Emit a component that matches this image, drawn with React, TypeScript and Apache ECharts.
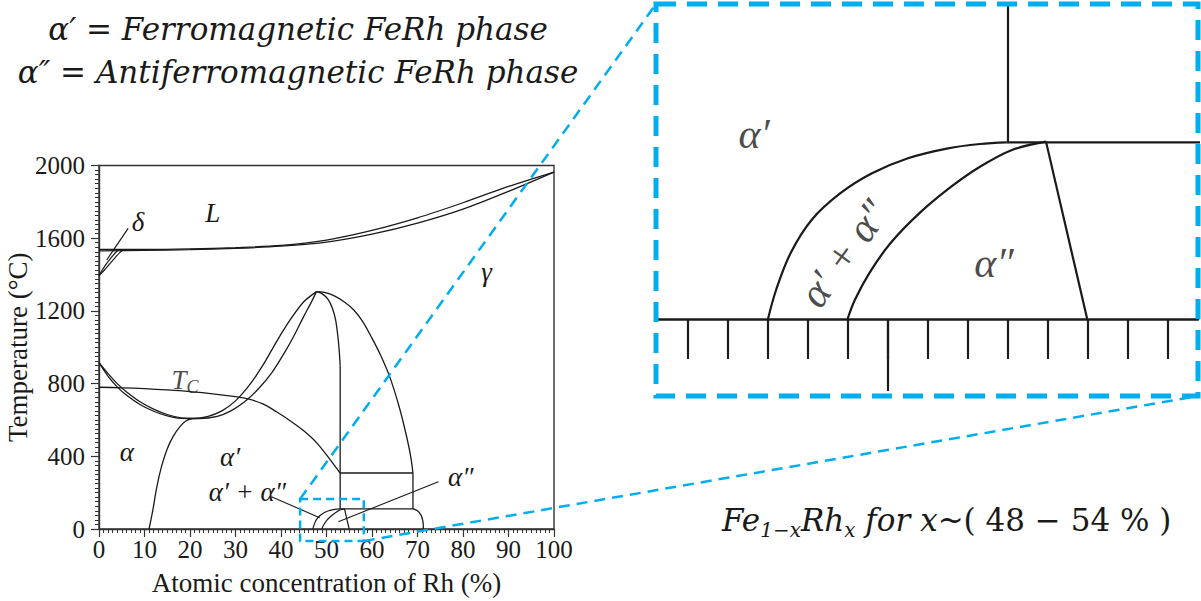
import React, { useEffect, useRef } from "react";
import * as echarts from "echarts";

// ---- Phase boundaries of Fe-Rh: [Rh at.%, T (°C)] ----
const liquidus = [[0, 1538], [10, 1538], [20, 1541], [30, 1548], [40, 1560], [50, 1590], [60, 1643], [70, 1712], [80, 1795], [90, 1885], [100, 1964]];
const solidus = [[0, 1530], [10, 1533], [20, 1537], [30, 1544], [40, 1556], [50, 1578], [60, 1622], [70, 1683], [80, 1760], [90, 1858], [100, 1964]];
const deltaA = [[0, 1394], [0.6, 1420], [1.5, 1455], [2.6, 1490], [3.6, 1520], [4.2, 1534]];
const deltaB = [[0, 1394], [1.2, 1425], [2.4, 1460], [3.6, 1495], [4.6, 1522], [5.2, 1534]];
const deltaLeader = [[1.7, 1480], [6.4, 1654]];
const gammaOuter = [[0, 915], [2, 855], [4, 800], [6, 755], [9, 700], [12, 660], [15, 630], [18, 612], [21, 608], [24, 620], [27, 650], [30, 705], [33, 790], [36, 900], [39, 1030], [42, 1150], [45, 1250], [47.8, 1306]];
const gammaInner = [[0, 915], [2, 840], [4, 782], [6, 737], [9, 685], [12, 648], [15, 622], [18, 609], [22, 608], [26, 620], [29, 650], [32, 700], [35, 770], [38, 860], [41, 980], [43, 1070], [45, 1170], [46.5, 1240], [47.8, 1306]];
const rightOuter = [[47.8, 1306], [49.5, 1302], [51.5, 1285], [54, 1248], [56, 1205], [58, 1140], [60, 1050], [62, 950], [64, 830], [66, 670], [67.5, 520], [68.5, 400], [69, 308]];
const rightVertical = [[69, 308], [69, 110.5]];
const rightDome = [[69, 110.5], [70, 100], [70.8, 75], [71.2, 40], [71.3, 0]];
const rightInner = [[47.8, 1306], [49, 1295], [50.3, 1265], [51.3, 1215], [52, 1150], [52.5, 1060], [52.8, 980], [53, 900]];
const innerVertical = [[53, 900], [53, 110.5]];
const curieLine = [[0, 780], [5, 777], [10, 772], [15, 765], [20, 756], [25, 744], [30, 728], [33, 714], [36, 688], [39, 645], [42, 596], [45, 540], [48, 470], [51, 375], [53, 308]];
const alphaBoundary = [[11, 0], [11.8, 100], [12.7, 230], [13.7, 340], [14.9, 435], [16.3, 510], [17.8, 563], [19, 593], [20.5, 608]];
const ordered308 = [[53, 308], [69, 308]];
const ordered110 = [[52.97, 110.5], [69, 110.5]];
const afmOuter = [[47, 0], [47.2, 18], [47.56, 41], [48.09, 62], [48.81, 78.7], [49.6, 91.2], [50.5, 100.6], [51.5, 106.8], [52.3, 109.5], [52.97, 110.5]];
const afmInner = [[48.99, 0], [49.17, 11.9], [49.53, 28.6], [50.06, 47.4], [50.78, 66.1], [51.58, 82.8], [52.3, 95.3], [53.1, 105.8], [53.95, 111]];
const afmRight = [[53.95, 111], [54.98, 0]];
const pairLeader = [[37.9, 178], [48.5, 62]];
const afmLeader = [[74.6, 260], [52.6, 40]];

// ---- region labels ----
const mainLabels: [number, number, string][] = [
  [25, 1739, "L"],
  [8.6, 1690, "δ"],
  [85.2, 1416, "γ"],
  [6.1, 425, "α"],
  [28.8, 398, "α′"],
  [32.6, 205, "α′ + α″"],
  [79.5, 288, "α″"],
];
const curieLabel: [number, number] = [18.9, 820];
const insetLabels: [number, number, string, number][] = [
  [46.65, 116, "α′", 0],
  [52.65, 35, "α″", 0],
  [48.9, 41, "α′ + α″", 54],
];

// ---- axes ----
const xRange = [0, 100];
const tRange = [0, 2000];
const insetX = [44.225, 57.75];
const insetT = [0, 196.5];
const insetTicks = [45, 46, 47, 48, 49, 50, 51, 52, 53, 54, 55, 56, 57];
const insetLongTick = [50];
const zoomBox = { x0: 44.2, x1: 58.2, t0: -66, t1: 165 };

const INK = "#1a1a1a";
const CYAN = "#00AEEF";
const SERIF = "Liberation Serif";
const HIDDEN = "rgba(0,0,0,0)";

function line(data: number[][], grid: number, width: number, smooth: number | boolean = 0.3) {
  return {
    type: "line",
    xAxisIndex: grid,
    yAxisIndex: grid,
    data,
    symbol: "none",
    showSymbol: false,
    smooth,
    silent: true,
    clip: true,
    lineStyle: { color: INK, width },
    z: 3,
  };
}

export default function App() {
  const ref = useRef<HTMLDivElement>(null);
  useEffect(() => {
    const chart = echarts.init(ref.current!, null, { renderer: "svg" });
    const labelStyle = { fontFamily: SERIF, fontStyle: "italic", fontSize: 27, color: INK, textBorderWidth: 0, opacity: 1 };
    const option: any = {
      animation: false,
      grid: [
        { left: 99, right: 647, top: 165.5, bottom: 72, show: true, borderColor: "#333", borderWidth: 1.4, backgroundColor: "transparent" },
        { left: 657, right: 3, top: 5, bottom: 282 },
      ],
      xAxis: [
        {
          gridIndex: 0, type: "value", min: xRange[0], max: xRange[1], interval: 10,
          name: "Atomic concentration of Rh (%)", nameLocation: "middle", nameGap: 40,
          nameTextStyle: { fontFamily: SERIF, fontSize: 27, color: INK },
          axisLine: { show: true, onZero: false, lineStyle: { color: "#333", width: 1.4 } },
          axisTick: { show: true, length: 8, lineStyle: { color: "#333", width: 1.2 } },
          minorTick: { show: true, splitNumber: 10, length: 4, lineStyle: { color: "#333", width: 1 } },
          axisLabel: { fontFamily: SERIF, fontSize: 25, color: INK, margin: 8, formatter: (v: number) => String(v) },
          splitLine: { show: false },
        },
        {
          gridIndex: 1, type: "value", min: insetX[0], max: insetX[1], position: "bottom",
          axisLine: { show: true, onZero: false, lineStyle: { color: INK, width: 2.5 } },
          axisTick: { show: true, customValues: insetTicks, length: 40, lineStyle: { color: INK, width: 2.2 } },
          axisLabel: { show: false },
          splitLine: { show: false },
        },
        {
          gridIndex: 1, type: "value", min: insetX[0], max: insetX[1], position: "bottom", offset: 0,
          axisLine: { show: false, onZero: false },
          axisTick: { show: true, customValues: insetLongTick, length: 72, lineStyle: { color: INK, width: 2.2 } },
          axisLabel: { show: false },
          splitLine: { show: false },
        },
      ],
      yAxis: [
        {
          gridIndex: 0, type: "value", min: tRange[0], max: tRange[1], interval: 400,
          name: "Temperature (°C)", nameLocation: "middle", nameGap: 55, nameRotate: 90,
          nameTextStyle: { fontFamily: SERIF, fontSize: 27, color: INK },
          axisLine: { show: true, onZero: false, lineStyle: { color: "#333", width: 1.4 } },
          axisTick: { show: true, length: 8, lineStyle: { color: "#333", width: 1.2 } },
          minorTick: { show: true, splitNumber: 16, length: 4, lineStyle: { color: "#333", width: 1 } },
          axisLabel: { fontFamily: SERIF, fontSize: 25, color: INK, margin: 14, formatter: (v: number) => String(v) },
          splitLine: { show: false },
        },
        { gridIndex: 1, type: "value", min: insetT[0], max: insetT[1], show: false },
      ],
      series: [
        line(liquidus, 0, 1.3),
        line(solidus, 0, 1.3),
        line(deltaA, 0, 1.2),
        line(deltaB, 0, 1.2),
        line(deltaLeader, 0, 1.2, false),
        line(gammaOuter, 0, 1.3),
        line(gammaInner, 0, 1.3),
        line(rightOuter, 0, 1.3),
        line(rightVertical, 0, 1.3, false),
        line(rightDome, 0, 1.3),
        line(rightInner, 0, 1.3),
        line(innerVertical, 0, 1.3, false),
        line(curieLine, 0, 1.3),
        line(alphaBoundary, 0, 1.3),
        line(ordered308, 0, 1.3, false),
        line(ordered110, 0, 1.3, false),
        line(afmOuter, 0, 1.2, 0.35),
        line(afmInner, 0, 1.2, 0.35),
        line(afmRight, 0, 1.2, false),
        line(pairLeader, 0, 1.1, false),
        line(afmLeader, 0, 1.1, false),
        // inset
        line(innerVertical, 1, 2.2, false),
        line(ordered110, 1, 2.2, false),
        line(afmOuter, 1, 2.2, 0.35),
        line(afmInner, 1, 2.2, 0.35),
        line(afmRight, 1, 2.2, false),
        {
          type: "scatter", xAxisIndex: 0, yAxisIndex: 0, silent: true, symbolSize: 1,
          itemStyle: { color: HIDDEN },
          data: mainLabels.map(([x, t, s]) => ({ value: [x, t], label: { formatter: s } })),
          label: { show: true, position: "inside", ...labelStyle },
          z: 5,
        },
        {
          type: "scatter", xAxisIndex: 0, yAxisIndex: 0, silent: true, symbolSize: 1,
          itemStyle: { color: HIDDEN },
          data: [{ value: curieLabel }],
          label: {
            show: true, position: "inside", formatter: "{t|T}{s|C}", color: INK, textBorderWidth: 0,
            rich: {
              t: { fontFamily: SERIF, fontStyle: "italic", fontSize: 27, color: INK, lineHeight: 32, verticalAlign: "middle" },
              s: { fontFamily: SERIF, fontStyle: "italic", fontSize: 18, color: INK, lineHeight: 16, verticalAlign: "bottom" },
            },
          },
          z: 5,
        },
        {
          type: "scatter", xAxisIndex: 1, yAxisIndex: 1, silent: true, symbolSize: 1,
          itemStyle: { color: HIDDEN },
          data: insetLabels.map(([x, t, s, r]) => ({ value: [x, t], label: { formatter: s, rotate: r } })),
          label: { show: true, position: "inside", fontFamily: SERIF, fontStyle: "italic", fontSize: 42, color: INK, textBorderWidth: 0 },
          z: 5,
        },
      ],
    };
    chart.setOption(option);

    const tl = chart.convertToPixel({ gridIndex: 0 } as any, [zoomBox.x0, zoomBox.t1]) as number[];
    const br = chart.convertToPixel({ gridIndex: 0 } as any, [zoomBox.x1, zoomBox.t0]) as number[];
    const inset = { x: 656, y: 4, w: 542, h: 392 };
    const topFont = { fontFamily: "DejaVu Serif", fontStyle: "italic", fontSize: 31, fill: INK };
    chart.setOption({
      graphic: [
        {
          type: "rect", z: 20, silent: true,
          shape: { x: tl[0], y: tl[1], width: br[0] - tl[0], height: br[1] - tl[1] },
          style: { fill: "none", stroke: CYAN, lineWidth: 2.5, lineDash: [8, 5] },
        },
        {
          type: "line", z: 20, silent: true,
          shape: { x1: tl[0], y1: tl[1], x2: inset.x, y2: inset.y },
          style: { stroke: CYAN, lineWidth: 2.5, lineDash: [11, 7] },
        },
        {
          type: "line", z: 20, silent: true,
          shape: { x1: br[0], y1: br[1], x2: inset.x + inset.w, y2: inset.y + inset.h },
          style: { stroke: CYAN, lineWidth: 2.5, lineDash: [11, 7] },
        },
        {
          type: "rect", z: 20, silent: true,
          shape: { x: inset.x, y: inset.y, width: inset.w, height: inset.h },
          style: { fill: "none", stroke: CYAN, lineWidth: 5, lineDash: [20, 11] },
        },
        {
          type: "text", z: 20, silent: true, x: 298, y: 29,
          style: { text: "α′ = Ferromagnetic FeRh phase", align: "center", verticalAlign: "middle", ...topFont },
        },
        {
          type: "text", z: 20, silent: true, x: 298, y: 72,
          style: { text: "α″ = Antiferromagnetic FeRh phase", align: "center", verticalAlign: "middle", ...topFont },
        },
        {
          type: "text", z: 20, silent: true, x: 722, y: 520,
          style: {
            text: "{i|Fe}{s|1−x}{i|Rh}{s|x}{i| for x}{r|~( 48 − 54 % )}",
            align: "left", verticalAlign: "middle",
            rich: {
              i: { fontFamily: "DejaVu Serif", fontStyle: "italic", fontSize: 31, lineHeight: 40, verticalAlign: "middle", fill: INK },
              s: { fontFamily: "DejaVu Serif", fontStyle: "italic", fontSize: 20, lineHeight: 20, verticalAlign: "bottom", fill: INK },
              r: { fontFamily: "DejaVu Serif", fontSize: 31, lineHeight: 40, verticalAlign: "middle", fill: INK },
            },
          },
        },
      ],
    });
    return () => chart.dispose();
  }, []);
  return <div ref={ref} style={{ position: "absolute", left: 0, top: 0, width: 1201, height: 601 }} />;
}
